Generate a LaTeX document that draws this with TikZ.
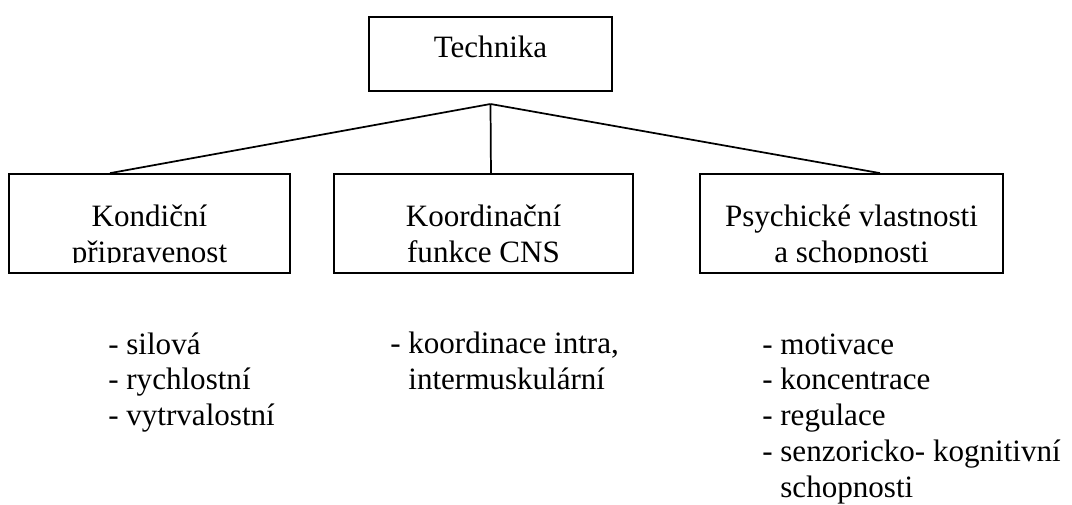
\documentclass[tikz,border=0pt]{standalone}
\usepackage{fontspec}
\setmainfont{Liberation Serif}
\usepackage{tikz}
\usetikzlibrary{positioning}
\tikzset{
level_box/.style={rectangle, draw, line width=1.3pt, fill=white, inner sep=0pt},
box_text/.style={align=center, anchor=base, inner sep=0pt, font=\fontsize{23.3}{26.8}\selectfont},
list_text/.style={align=left, anchor=base west, inner sep=0pt, font=\fontsize{23.3}{26.8}\selectfont},
branch/.style={line width=1.3pt}
}

\begin{document}
\begin{tikzpicture}[x=0.75pt, y=-0.75pt]
    \useasboundingbox (0,0) rectangle (1072,504);
    % top box
    \node[level_box, minimum width=182.25pt, minimum height=55.5pt] (tech_box) at (490.5,54) {};
    \node[box_text] (tech_text) at (490.5,57.5) {Technika};
    \coordinate (apex) at (490.5,104);
    % second level (base of a node = baseline of its last line)
    \node[level_box, minimum width=210.75pt, minimum height=74.25pt] (kond_box) at (149.5,223.5) {};
    \node[level_box, minimum width=224.25pt, minimum height=74.25pt] (koord_box) at (483.5,223.5) {};
    \node[level_box, minimum width=227.25pt, minimum height=74.25pt] (psych_box) at (851.5,223.5) {};
    \begin{scope}
        \clip (kond_box.north west) rectangle ([yshift=8.25pt]kond_box.south east);
        \node[box_text] (kond_text) at (149.5,262.7) {Kondiční\\připravenost};
    \end{scope}
    \begin{scope}
        \clip (koord_box.north west) rectangle ([yshift=8.25pt]koord_box.south east);
        \node[box_text] (koord_text) at (483.5,262.7) {Koordinační\\funkce CNS};
    \end{scope}
    \begin{scope}
        \clip (psych_box.north west) rectangle ([yshift=8.25pt]psych_box.south east);
        \node[box_text] (psych_text) at (851.5,262.7) {Psychické vlastnosti\\a schopnosti};
    \end{scope}
    \draw[branch] (apex) -- ([xshift=-29.6pt]kond_box.north);
    \draw[branch] (apex) -- ([xshift=5.6pt]koord_box.north);
    \draw[branch] (apex) -- ([xshift=21.4pt]psych_box.north);
    % lists
    \node[list_text] (kond_list) at (108,425.5) {- silová\\- rychlostní\\- vytrvalostní};
    \node[list_text] (koord_list) at (390,389.7) {- koordinace intra,\\\phantom{- }intermuskulární};
    \node[list_text] (psych_list) at (762,497) {- motivace\\- koncentrace\\- regulace\\- senzoricko- kognitivní\\\phantom{- }schopnosti};
\end{tikzpicture}
\end{document}
